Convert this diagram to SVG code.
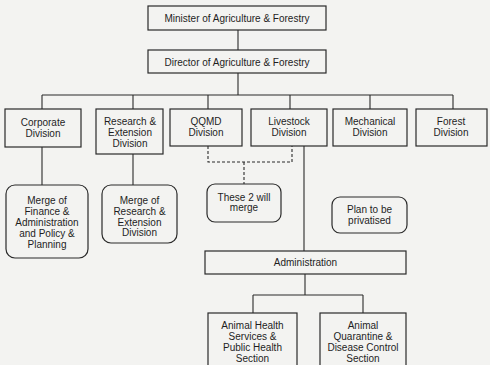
<svg xmlns="http://www.w3.org/2000/svg" width="490" height="365" viewBox="0 0 490 365">
<style>
.bg{fill:#f3f3f1}
.box{fill:none;stroke:#2a2a2a;stroke-width:1.2}
.rbox{fill:none;stroke:#2a2a2a;stroke-width:1.2}
.ln{fill:none;stroke:#2a2a2a;stroke-width:1.1}
.dash{fill:none;stroke:#2a2a2a;stroke-width:1.1;stroke-dasharray:3 2}
text{font-family:"Liberation Sans",Arial,sans-serif;font-size:10px;fill:#1e1e1e;text-anchor:middle}
</style>
<rect class="bg" x="0" y="0" width="490" height="365"/>
<g id="connectors">
<path class="ln" d="M238 30V50M238 73V95M42 95H453M42 95V109M133 95V109M208 95V109M290 95V109M370 95V109M453 95V109"/>
<path class="ln" d="M42 147V185M133 154V185"/>
<path class="dash" d="M208 146V162H292V146M244 162V184"/>
<path class="ln" d="M304 146V251M305 274V295M253 295H363M253 295V313M363 295V313"/>
</g>
<g id="minister"><rect class="box" x="148" y="6" width="178" height="24"/><text x="237" y="21.5">Minister of Agriculture &amp; Forestry</text></g>
<g id="director"><rect class="box" x="148" y="50" width="178" height="23"/><text x="237" y="65.5">Director of Agriculture &amp; Forestry</text></g>
<g id="corporate"><rect class="box" x="5" y="109" width="76" height="38"/><text x="43" y="125.5">Corporate</text><text x="43" y="136.5">Division</text></g>
<g id="research"><rect class="box" x="96" y="109" width="67" height="45"/><text x="130" y="124.5">Research &amp;</text><text x="130" y="135.5">Extension</text><text x="130" y="146.5">Division</text></g>
<g id="qqmd"><rect class="box" x="170" y="109" width="72" height="37"/><text x="206" y="124.5">QQMD</text><text x="206" y="135.5">Division</text></g>
<g id="livestock"><rect class="box" x="251" y="109" width="76" height="37"/><text x="289" y="124.5">Livestock</text><text x="289" y="135.5">Division</text></g>
<g id="mechanical"><rect class="box" x="333" y="109" width="74" height="37"/><text x="370" y="124.5">Mechanical</text><text x="370" y="135.5">Division</text></g>
<g id="forest"><rect class="box" x="416" y="109" width="71" height="37"/><text x="451" y="124.5">Forest</text><text x="451" y="135.5">Division</text></g>
<g id="merge-finance"><rect class="rbox" x="6" y="185" width="82" height="73" rx="9"/><text x="47" y="203.5">Merge of</text><text x="47" y="214.5">Finance &amp;</text><text x="47" y="225.5">Administration</text><text x="47" y="236.5">and Policy &amp;</text><text x="47" y="247.5">Planning</text></g>
<g id="merge-research"><rect class="rbox" x="102" y="185" width="75" height="58" rx="9"/><text x="139.5" y="203.5">Merge of</text><text x="139.5" y="214.5">Research &amp;</text><text x="139.5" y="225.5">Extension</text><text x="139.5" y="236">Division</text></g>
<g id="these-merge"><rect class="rbox" x="207" y="184" width="74" height="38" rx="8"/><text x="244" y="200.5">These 2 will</text><text x="244" y="211">merge</text></g>
<g id="privatised"><rect class="rbox" x="332" y="197" width="75" height="36" rx="8"/><text x="369.5" y="212.5">Plan to be</text><text x="369.5" y="224">privatised</text></g>
<g id="administration"><rect class="box" x="205" y="251" width="201" height="23"/><text x="305.5" y="265.5">Administration</text></g>
<g id="animal-health"><rect class="box" x="208" y="313" width="89" height="62"/><text x="252.5" y="328.5">Animal Health</text><text x="252.5" y="339.5">Services &amp;</text><text x="252.5" y="350.5">Public Health</text><text x="252.5" y="361.5">Section</text></g>
<g id="animal-quarantine"><rect class="box" x="320" y="313" width="86" height="62"/><text x="363" y="328.5">Animal</text><text x="363" y="339.5">Quarantine &amp;</text><text x="363" y="350.5">Disease Control</text><text x="363" y="361.5">Section</text></g>
</svg>
